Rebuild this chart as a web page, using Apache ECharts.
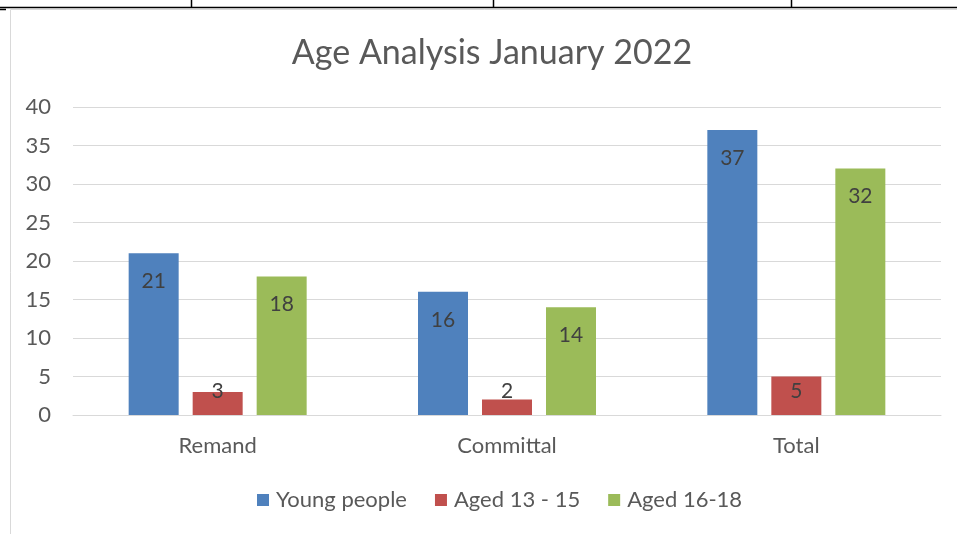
<!DOCTYPE html>
<html>
<head>
<meta charset="utf-8">
<script src="https://cdn.jsdelivr.net/npm/echarts@6/dist/echarts.min.js"></script>
<style>
html,body{margin:0;padding:0;background:#fff;}
#chart{width:957px;height:534px;}
</style>
</head>
<body>
<div id="chart"></div>
<script>
const titleText = 'Age Analysis January 2022';
const categories = ['Remand', 'Committal', 'Total'];
const seriesNames = ['Young people', 'Aged 13 - 15', 'Aged 16-18'];
const youngPeople = [21, 16, 37];
const aged13to15 = [3, 2, 5];
const aged16to18 = [18, 14, 32];
const yTicks = [0, 5, 10, 15, 20, 25, 30, 35, 40];

const colors = ['#4F81BD', '#C0504D', '#9BBB59'];
const FONT = 'Lato';

const chart = echarts.init(document.getElementById('chart'), null, {renderer: 'canvas'});

function makeData(values) {
  return values.map(v => {
    if (v < 6.75) {
      return {value: v, label: {position: 'insideBottom', distance: 13}};
    }
    return {value: v};
  });
}

const allValues = [youngPeople, aged13to15, aged16to18];

const series = allValues.map((vals, i) => ({
  name: seriesNames[i],
  type: 'bar',
  data: makeData(vals),
  barWidth: 50,
  barGap: '28%',
  itemStyle: {color: colors[i]},
  label: {
    show: true,
    position: 'insideTop',
    distance: 17,
    color: '#404040',
    fontFamily: FONT,
    fontSize: 21,
    lineHeight: 22
  }
}));

chart.setOption({
  animation: false,
  backgroundColor: '#fff',
  color: colors,
  title: {
    text: titleText,
    left: 487,
    textAlign: 'center',
    top: 31,
    textStyle: {fontFamily: FONT, fontSize: 34, fontWeight: 'normal', color: '#595959'}
  },
  legend: {
    data: seriesNames,
    left: 252,
    top: 484,
    itemWidth: 12,
    itemHeight: 12,
    itemGap: 28,
    icon: 'rect',
    textStyle: {fontFamily: FONT, fontSize: 22, color: '#595959', padding: [0, 0, 0, 2]}
  },
  grid: {left: 73, right: 16, top: 107, bottom: 119, containLabel: false},
  xAxis: {
    type: 'category',
    data: categories,
    axisLine: {lineStyle: {color: '#d9d9d9', width: 1}},
    axisTick: {show: false},
    axisLabel: {fontFamily: FONT, fontSize: 22, color: '#595959', margin: 20}
  },
  yAxis: {
    type: 'value',
    min: yTicks[0],
    max: yTicks[yTicks.length - 1],
    interval: 5,
    axisLine: {show: false},
    axisTick: {show: false},
    splitLine: {lineStyle: {color: '#d9d9d9', width: 1}},
    axisLabel: {fontFamily: FONT, fontSize: 22, color: '#595959', margin: 22}
  },
  graphic: [
    {type: 'rect', shape: {x: 10.5, y: 9.5, width: 960, height: 540}, style: {fill: 'none', stroke: '#d9d9d9', lineWidth: 1}, z: -1},
    {type: 'line', shape: {x1: 0, y1: 7.5, x2: 957, y2: 7.5}, style: {stroke: '#000', lineWidth: 1.5}},
    {type: 'line', shape: {x1: 191.5, y1: 0, x2: 191.5, y2: 8}, style: {stroke: '#000', lineWidth: 1.5}},
    {type: 'line', shape: {x1: 493.5, y1: 0, x2: 493.5, y2: 8}, style: {stroke: '#000', lineWidth: 1.5}},
    {type: 'line', shape: {x1: 791.5, y1: 0, x2: 791.5, y2: 8}, style: {stroke: '#000', lineWidth: 1.5}},
    {type: 'line', shape: {x1: 0, y1: 9.5, x2: 6, y2: 9.5}, style: {stroke: '#000', lineWidth: 1.5}}
  ],
  series: series
});
</script>
</body>
</html>
